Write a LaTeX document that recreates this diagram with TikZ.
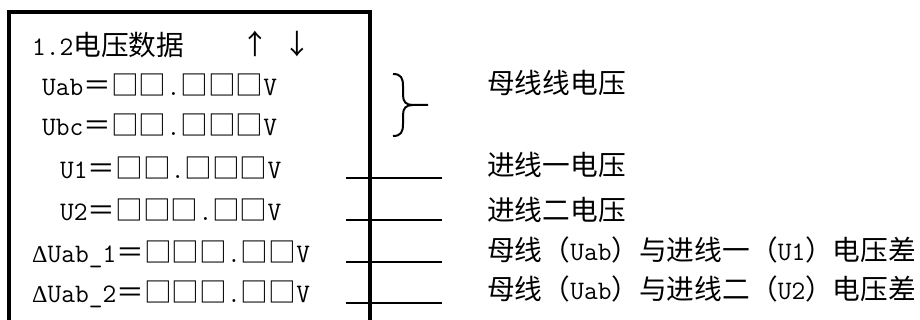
\documentclass[tikz,border=0pt]{standalone}
\usepackage{fontspec}
\newfontfamily\cjk{Noto Sans CJK SC}
\newfontfamily\grk{Liberation Serif}
\newcommand{\zh}[1]{{\cjk\fontsize{27.7}{30}\selectfont #1}}
\newcommand{\dlt}{{\grk\fontsize{24}{30}\selectfont Δ}}

\begin{document}
\begin{tikzpicture}[x=1pt,y=-1pt,
	txt/.style={anchor=base west,inner sep=0pt,font=\ttfamily\fontsize{26.7}{30}\selectfont}]
	\useasboundingbox (0,0) rectangle (920,320);

	% frame of the screen
	\draw[line width=4pt] (9,335) -- (9,12) -- (370,12) -- (370,335);

	\node[txt] (title) at (32,56) {1.2\zh{电压数据}};
	\node (up) at (255,44) {\zh{↑}};
	\node (down) at (297,44) {\zh{↓}};
	\node[txt] (uab) at (42,96) {Uab\zh{＝□□}.\zh{□□□}V};
	\node[txt] (ubc) at (42,136) {Ubc\zh{＝□□}.\zh{□□□}V};
	\node[txt] (u1) at (60,179) {U1\zh{＝□□}.\zh{□□□}V};
	\node[txt] (u2) at (60,221) {U2\zh{＝□□□}.\zh{□□}V};
	\node[txt] (du1) at (32,262) {\dlt Uab\_1\zh{＝□□□}.\zh{□□}V};
	\node[txt] (du2) at (32,302) {\dlt Uab\_2\zh{＝□□□}.\zh{□□}V};

	% leaders
	\draw[line width=2.8pt] (346,178) -- (442,178);
	\draw[line width=2.8pt] (346,220) -- (442,220);
	\draw[line width=2.8pt] (346,262) -- (442,262);
	\draw[line width=2.8pt] (346,303) -- (442,303);

	% brace
	\draw[line width=2pt] (393,74) .. controls (401,74) and (403,78) .. (403,86) -- (403,95)
		.. controls (403,102) and (406,105) .. (413,105) -- (428,105);
	\draw[line width=2pt] (393,136) .. controls (401,136) and (403,132) .. (403,124) -- (403,115)
		.. controls (403,108) and (406,105) .. (413,105);

	\node[txt] (lbus) at (487,94) {\zh{母线线电压}};
	\node[txt] (lin1) at (487,176) {\zh{进线一电压}};
	\node[txt] (lin2) at (487,221) {\zh{进线二电压}};
	\node[txt] (ldu1) at (487,261) {\zh{母线（}Uab\zh{）与进线一（}U1\zh{）电压差}};
	\node[txt] (ldu2) at (487,299) {\zh{母线（}Uab\zh{）与进线二（}U2\zh{）电压差}};
\end{tikzpicture}
\end{document}
